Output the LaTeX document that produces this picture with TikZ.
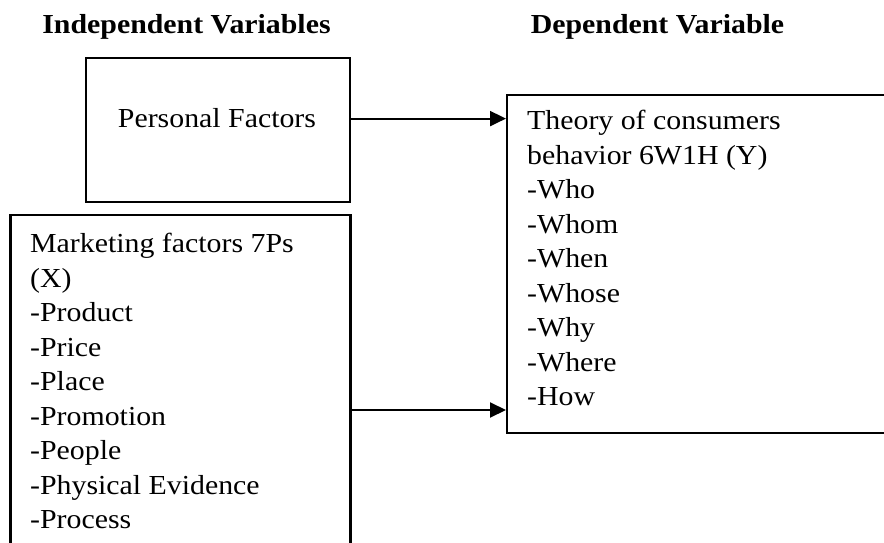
\documentclass[tikz,border=0pt]{standalone}
\usepackage{fontspec}
\setmainfont{Liberation Serif}[FakeStretch=1.085]
\usetikzlibrary{arrows.meta}

\begin{document}
\begin{tikzpicture}[x=1pt,y=-1pt,
  box/.style={draw, line width=2.2pt, inner sep=0pt, anchor=north west},
  txt/.style={inner sep=0pt, align=left, font=\fontsize{27.5}{34.5}\selectfont},
  head/.style={inner sep=0pt, font=\fontsize{27.5}{30}\selectfont\bfseries},
  arr/.style={line width=2pt, -{Triangle[length=16pt,width=15pt]}}]
\clip (0,0) rectangle (884,543);
\node[head, anchor=base] (indep) at (186.5,34) {Independent Variables};
\node[head, anchor=base] (dep) at (657.5,34) {Dependent Variable};
\node[box, minimum width=264pt, minimum height=144pt] (personal) at (85,56.7) {};
\node[box, minimum width=340pt, minimum height=345pt] (marketing) at (9.3,214) {};
\node[box, minimum width=400pt, minimum height=337.5pt] (theory) at (506,94) {};
\node[txt, anchor=base] (pf) at (217,128) {Personal Factors};
\node[txt, anchor=north west] (mf) at (30,233.2) {Marketing factors 7Ps\\(X)\\-Product\\-Price\\-Place\\-Promotion\\-People\\-Physical Evidence\\-Process};
\node[txt, anchor=north west] (cb) at (527,110.2) {Theory of consumers\\behavior 6W1H (Y)\\-Who\\-Whom\\-When\\-Whose\\-Why\\-Where\\-How};
\coordinate (low) at (0,410);
\draw[arr] (pf -| personal.east) -- (pf -| theory.west);
\draw[arr] (low -| marketing.east) -- (low -| theory.west);
\end{tikzpicture}
\end{document}
